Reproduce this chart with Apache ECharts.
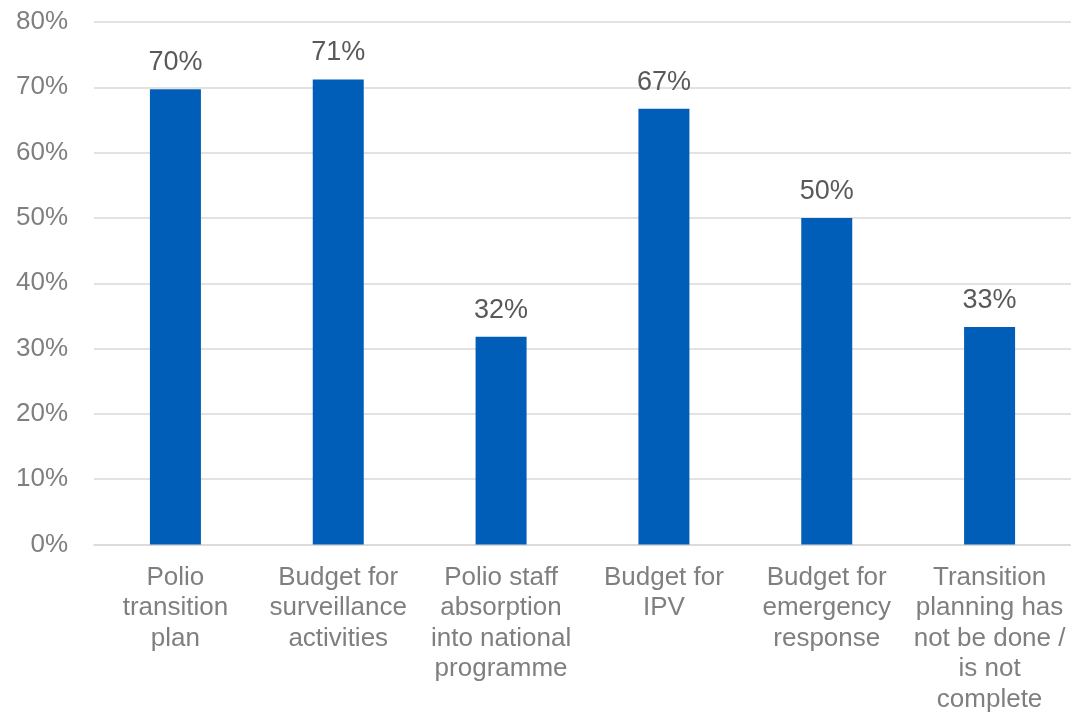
<!DOCTYPE html>
<html>
<head>
<meta charset="utf-8">
<script src="https://cdn.jsdelivr.net/npm/echarts@6/dist/echarts.min.js"></script>
<style>
  html, body { margin: 0; padding: 0; background: #ffffff; }
  #chart { width: 1071px; height: 715px; }
</style>
</head>
<body>
<div id="chart"></div>
<script>
// Categories (multi-line labels) and the share of respondents for each
const categories = [
  'Polio\ntransition\nplan',
  'Budget for\nsurveillance\nactivities',
  'Polio staff\nabsorption\ninto national\nprogramme',
  'Budget for\nIPV',
  'Budget for\nemergency\nresponse',
  'Transition\nplanning has\nnot be done /\nis not\ncomplete'
];
const shares = [69.7, 71.2, 31.8, 66.7, 50.0, 33.3];
const yTicks = { min: 0, max: 80, step: 10 };

const FONT = '"Liberation Sans", Arial, sans-serif';

const chart = echarts.init(document.getElementById('chart'), null, { renderer: 'canvas' });

chart.setOption({
  backgroundColor: '#ffffff',
  animation: false,
  grid: { left: 94, top: 22, width: 979, bottom: 167.5, containLabel: false },
  xAxis: {
    type: 'category',
    data: categories,
    axisTick: { show: false },
    axisLine: { lineStyle: { color: '#d9d9d9', width: 1.5 } },
    axisLabel: {
      interval: 0,
      margin: 18,
      color: '#7f7f7f',
      fontFamily: FONT,
      fontSize: 26,
      lineHeight: 30.5
    }
  },
  yAxis: {
    type: 'value',
    min: yTicks.min,
    max: yTicks.max,
    interval: yTicks.step,
    axisLine: { show: false },
    axisTick: { show: false },
    splitLine: { lineStyle: { color: '#d9d9d9', width: 1.5 } },
    axisLabel: {
      margin: 26,
      color: '#7f7f7f',
      fontFamily: FONT,
      fontSize: 26,
      formatter: '{value}%'
    }
  },
  series: [{
    type: 'bar',
    data: shares,
    barWidth: 51,
    itemStyle: { color: '#005eb8' },
    label: {
      show: true,
      position: 'top',
      distance: 13,
      color: '#595959',
      fontFamily: FONT,
      fontSize: 27,
      formatter: p => Math.round(p.value) + '%'
    }
  }]
});
</script>
</body>
</html>
